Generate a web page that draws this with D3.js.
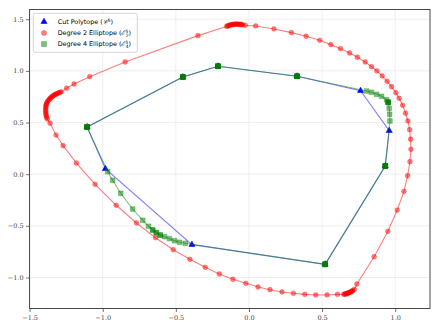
<!DOCTYPE html>
<html>
<head>
<meta charset="utf-8">
<script src="https://cdn.jsdelivr.net/npm/d3@7"></script>
<style>
    body { margin: 0; background: #fff; }
    svg { display: block; }
</style>
</head>
<body>
<div id="chartcontainer"></div>
<script>
/*global d3 */

// Tick values
var xTicks = [-1.5, -1.0, -0.5, 0.0, 0.5, 1.0],
    yTicks = [-1.0, -0.5, 0.0, 0.5, 1.0, 1.5];

// Cut polytope vertices (projected), in boundary order
var cutPoints = [
    [-1.107, 0.457], [-0.452, 0.941], [-0.212, 1.045], [0.329, 0.948],
    [0.763, 0.808], [0.959, 0.421], [0.932, 0.079], [0.521, -0.872],
    [-0.390, -0.682], [-0.982, 0.053]
];

// Degree 2 elliptope boundary samples
var deg2Points = [
    [-0.153, 1.430], [-0.146, 1.435], [-0.139, 1.439], [-0.132, 1.442], [-0.125, 1.444],
    [-0.118, 1.447], [-0.112, 1.449], [-0.105, 1.450], [-0.098, 1.451], [-0.091, 1.452],
    [-0.084, 1.452], [-0.077, 1.452], [-0.071, 1.451], [-0.064, 1.450], [-0.057, 1.449],
    [-0.050, 1.448], [-0.043, 1.446], [-0.025, 1.441],
    [0.046, 1.435], [0.171, 1.406], [0.290, 1.370], [0.391, 1.335], [0.484, 1.296],
    [0.560, 1.254], [0.626, 1.215], [0.688, 1.173], [0.742, 1.132], [0.795, 1.086],
    [0.838, 1.041], [0.875, 0.999], [0.911, 0.951], [0.945, 0.899], [0.975, 0.847],
    [1.005, 0.789], [1.027, 0.735], [1.051, 0.667], [1.071, 0.590], [1.087, 0.515],
    [1.099, 0.431], [1.105, 0.338], [1.108, 0.241], [1.101, 0.121], [1.085, -0.015],
    [1.060, -0.166], [1.014, -0.347], [0.950, -0.553], [0.856, -0.799], [0.738, -1.063],
    [0.720, -1.115], [0.710, -1.126], [0.705, -1.131], [0.700, -1.136], [0.695, -1.140],
    [0.690, -1.143], [0.684, -1.147], [0.679, -1.150], [0.674, -1.153], [0.669, -1.155],
    [0.664, -1.158], [0.659, -1.160], [0.654, -1.161], [0.649, -1.162],
    [0.605, -1.163], [0.534, -1.169], [0.457, -1.169],
    [0.382, -1.163], [0.304, -1.153], [0.226, -1.140], [0.144, -1.118], [0.062, -1.092],
    [-0.021, -1.056], [-0.110, -1.017], [-0.203, -0.966], [-0.299, -0.901], [-0.404, -0.824],
    [-0.518, -0.731], [-0.639, -0.615], [-0.769, -0.472], [-0.908, -0.301], [-1.052, -0.098],
    [-1.180, 0.108], [-1.271, 0.276], [-1.319, 0.379], [-1.360, 0.493], [-1.379, 0.534],
    [-1.383, 0.548], [-1.386, 0.563], [-1.388, 0.578], [-1.389, 0.592], [-1.390, 0.606],
    [-1.390, 0.621], [-1.390, 0.636], [-1.389, 0.651], [-1.388, 0.663], [-1.386, 0.675],
    [-1.383, 0.687], [-1.379, 0.699], [-1.374, 0.709], [-1.368, 0.718], [-1.363, 0.728],
    [-1.358, 0.738], [-1.351, 0.745], [-1.344, 0.752], [-1.338, 0.760], [-1.331, 0.767],
    [-1.324, 0.772], [-1.317, 0.776], [-1.309, 0.782], [-1.300, 0.788], [-1.293, 0.792],
    [-1.285, 0.796], [-1.247, 0.832], [-1.196, 0.873],
    [-1.089, 0.944], [-0.847, 1.086], [-0.349, 1.341]
];

// Degree 4 elliptope boundary samples: [x, y, number of samples at that spot]
var deg4Points = [
    [-1.107, 0.457, 6], [-0.452, 0.941, 6], [-0.212, 1.045, 6], [0.329, 0.948, 6],
    [0.804, 0.805, 1], [0.838, 0.793, 1], [0.873, 0.773, 1], [0.907, 0.754, 1],
    [0.941, 0.721, 1], [0.952, 0.696, 4], [0.959, 0.638, 1], [0.962, 0.580, 1],
    [0.964, 0.515, 1], [0.932, 0.079, 6], [0.521, -0.872, 6],
    [-0.436, -0.669, 1], [-0.475, -0.659, 1], [-0.509, -0.644, 1], [-0.543, -0.624, 1],
    [-0.577, -0.605, 1], [-0.607, -0.589, 2], [-0.634, -0.566, 2], [-0.658, -0.540, 2],
    [-0.687, -0.504, 1], [-0.726, -0.446, 1], [-0.795, -0.337, 1], [-0.877, -0.185, 1],
    [-0.932, -0.059, 1], [-0.966, 0.024, 1]
];

var legendLabels = ["Cut Polytope", "Degree 2 Elliptope", "Degree 4 Elliptope"];

function EllipsePlot() {

    var width = 440,
        height = 330,
        plot = { left: 29.6, right: 430, top: 9.5, bottom: 308.5 };

    var blue = "#0000ff",
        red = "#ff0000",
        green = "#008000";

    var x = d3.scaleLinear().domain([-1.5, 1.238]).range([plot.left, plot.right]),
        y = d3.scaleLinear().domain([-1.300, 1.594]).range([plot.bottom, plot.top]),
        fmt = d3.format(".1f"),
        svg;

    function prepareSvg() {
        svg = d3.select("#chartcontainer")
            .append("svg")
            .attr("width", width)
            .attr("height", height);
    }

    function drawGrid() {
        var g = svg.append("g").attr("class", "grid");
        g.selectAll("line.vx").data(xTicks).enter().append("line")
            .attr("x1", function (d) { return x(d); })
            .attr("x2", function (d) { return x(d); })
            .attr("y1", plot.top).attr("y2", plot.bottom)
            .style("stroke", "#ebebeb").style("stroke-width", 0.8);
        g.selectAll("line.hy").data(yTicks).enter().append("line")
            .attr("y1", function (d) { return y(d); })
            .attr("y2", function (d) { return y(d); })
            .attr("x1", plot.left).attr("x2", plot.right)
            .style("stroke", "#ebebeb").style("stroke-width", 0.8);
    }

    function drawAxes() {
        var minorX = d3.range(-15, 13).map(function (i) { return i / 10; }),
            minorY = d3.range(-13, 16).map(function (i) { return i / 10; });

        var gx = svg.append("g").attr("transform", "translate(0," + plot.bottom + ")");
        gx.call(d3.axisBottom(x).tickValues(minorX).tickSize(2).tickFormat(""));
        gx.call(d3.axisBottom(x).tickValues(xTicks).tickSize(3.5).tickPadding(3).tickFormat(fmt));

        var gy = svg.append("g").attr("transform", "translate(" + plot.left + ",0)");
        gy.call(d3.axisLeft(y).tickValues(minorY).tickSize(2).tickFormat(""));
        gy.call(d3.axisLeft(y).tickValues(yTicks).tickSize(3.5).tickPadding(2.5).tickFormat(fmt));

        svg.selectAll(".domain").remove();
        svg.selectAll(".tick line").style("stroke", "#333").style("stroke-width", 0.7);
        svg.selectAll(".tick text")
            .style("font-family", "'DejaVu Serif', serif")
            .style("font-size", "6.5px")
            .style("fill", "#444");

        svg.append("rect")
            .attr("x", plot.left).attr("y", plot.top)
            .attr("width", plot.right - plot.left)
            .attr("height", plot.bottom - plot.top)
            .style("fill", "none").style("stroke", "#333").style("stroke-width", 0.9);
    }

    function drawSeries(points, color, symbol, size, markerOpacity, counts) {
        var line = d3.line()
            .x(function (d) { return x(d[0]); })
            .y(function (d) { return y(d[1]); })
            .curve(d3.curveLinearClosed);

        svg.append("path")
            .datum(points)
            .attr("d", line)
            .style("fill", "none")
            .style("stroke", color)
            .style("stroke-opacity", 0.5)
            .style("stroke-width", 1.1);

        var marks = [];
        points.forEach(function (p) {
            var n = counts ? (p[2] || 1) : 1, i;
            for (i = 0; i < n; i++) { marks.push(p); }
        });

        svg.append("g").selectAll("path")
            .data(marks)
            .enter().append("path")
            .attr("d", d3.symbol().type(symbol).size(size))
            .attr("transform", function (d) {
                return "translate(" + x(d[0]) + "," + y(d[1]) + ")";
            })
            .style("fill", color)
            .style("fill-opacity", markerOpacity)
            .style("stroke", color)
            .style("stroke-opacity", markerOpacity)
            .style("stroke-width", 0.6);
    }

    function drawLegend() {
        var lg = svg.append("g").attr("transform", "translate(33.3,13.3)"),
            rows = [
                { sym: d3.symbolTriangle, color: blue, op: 1, size: 16, script: "\uD835\uDC9E", sub: null, sup: "5" },
                { sym: d3.symbolCircle, color: red, op: 0.5, size: 20, script: "\u2130", sub: "2", sup: "5" },
                { sym: d3.symbolSquare, color: green, op: 0.5, size: 25, script: "\u2130", sub: "4", sup: "5" }
            ];

        lg.append("rect")
            .attr("width", 104).attr("height", 39)
            .attr("rx", 2)
            .style("fill", "#fff").style("fill-opacity", 0.8)
            .style("stroke", "#ccc").style("stroke-width", 0.8);

        rows.forEach(function (r, i) {
            var cy = 8.4 + i * 11.2,
                t;
            lg.append("path")
                .attr("d", d3.symbol().type(r.sym).size(r.size))
                .attr("transform", "translate(10.7," + cy + ")")
                .style("fill", r.color).style("fill-opacity", r.op)
                .style("stroke", r.color).style("stroke-opacity", r.op)
                .style("stroke-width", 0.6);

            t = lg.append("text")
                .attr("x", 24.4).attr("y", cy + 2.3)
                .style("font-family", "'DejaVu Sans', sans-serif")
                .style("font-size", "6.4px")
                .style("fill", "#000");
            t.append("tspan").text(legendLabels[i] + " (");
            t.append("tspan").style("font-family", "'DejaVu Serif', serif").style("font-style", "italic").text(r.script);
            if (r.sub) {
                t.append("tspan").attr("dy", -2.4).style("font-size", "4.4px").text(r.sup);
                t.append("tspan").attr("dx", -2.6).attr("dy", 4.2).style("font-size", "4.4px").text(r.sub);
                t.append("tspan").attr("dy", -1.8).text(")");
            } else {
                t.append("tspan").attr("dy", -2.4).style("font-size", "4.4px").text(r.sup);
                t.append("tspan").attr("dy", 2.4).text(")");
            }
        });
    }

    function init() {
        prepareSvg();
        drawGrid();
        drawSeries(cutPoints, blue, d3.symbolTriangle, 16, 1, false);
        drawSeries(deg2Points, red, d3.symbolCircle, 18, 0.5, false);
        drawSeries(deg4Points, green, d3.symbolSquare, 22, 0.5, true);
        drawAxes();
        drawLegend();
    }

    init();
}

EllipsePlot();
</script>
</body>
</html>
